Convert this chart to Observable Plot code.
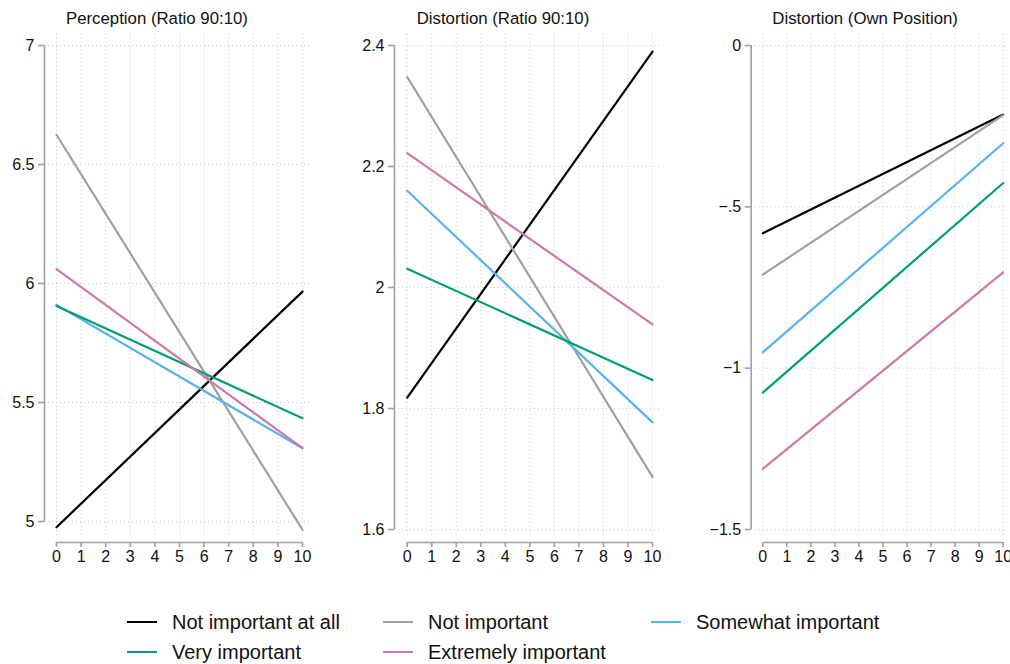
<!DOCTYPE html>
<html><head><meta charset="utf-8">
<script src="https://cdn.jsdelivr.net/npm/d3@7"></script>
<script src="https://cdn.jsdelivr.net/npm/@observablehq/plot@0.6"></script>
<style>
body{margin:0;background:#fff;font-family:"Liberation Sans",Arial,sans-serif;}
#wrap{position:relative;width:1010px;height:664px;overflow:hidden;background:#fff;}
.panel{position:absolute;top:0;}
.title{position:absolute;top:11px;font-size:16.8px;line-height:1;color:#111;white-space:nowrap;}
.item{position:absolute;display:flex;align-items:center;height:24px;font-size:20px;color:#111;white-space:nowrap;}
.sw{width:30px;height:2.5px;margin-right:15px;}
</style></head><body><div id="wrap"></div>
<script>
const categories = ["Not important at all","Not important","Somewhat important","Very important","Extremely important"];
const colors = ["#000000","#a0a0a0","#56b4e9","#009e73","#cc79a7"];
const titles = ["Perception (Ratio 90:10)","Distortion (Ratio 90:10)","Distortion (Own Position)"];
const xValues = [0, 10];
const xTicks = [0,1,2,3,4,5,6,7,8,9,10];

const perceptionStart = [4.976, 6.625, 5.910, 5.905, 6.060];
const perceptionEnd   = [5.966, 4.965, 5.308, 5.434, 5.308];
const distRatioStart  = [1.818, 2.348, 2.160, 2.031, 2.222];
const distRatioEnd    = [2.390, 1.687, 1.777, 1.847, 1.939];
const distOwnStart    = [-0.582, -0.710, -0.951, -1.076, -1.312];
const distOwnEnd      = [-0.214, -0.216, -0.303, -0.426, -0.703];

const perceptionTicks = [5, 5.5, 6, 6.5, 7];
const perceptionTickLabels = ["5","5.5","6","6.5","7"];
const distRatioTicks = [1.6, 1.8, 2, 2.2, 2.4];
const distRatioTickLabels = ["1.6","1.8","2","2.2","2.4"];
const distOwnTicks = [-1.5, -1, -0.5, 0];
const distOwnTickLabels = ["\u22121.5","\u22121","\u2212.5","0"];

// layout (pixels, relative to each panel's svg)
const layouts = [
  {offset:0,   width:336, left:44,   x0:56,   x10:302,   right:311, yHigh:45, yLow:521},
  {offset:340, width:340, left:54,   x0:66.7, x10:312,   right:320, yHigh:45, yLow:529},
  {offset:680, width:330, left:70.7, x0:82.3, x10:322.7, right:326, yHigh:45, yLow:529}
];
const H = 580, TOP = 33, AXISY = 542, GRIDBOTTOM = 535;

const wrap = document.getElementById("wrap");
const axisGray = "#a0a0a0", gridGray = "#c6c6c6";

function panel(idx, start, end, ticks, labels) {
  const cfg = layouts[idx];
  const pxX = (cfg.x10 - cfg.x0) / 10;
  const xd = [(cfg.left - cfg.x0) / pxX, 10 + (cfg.right - cfg.x10) / pxX];
  const tlo = ticks[0], thi = ticks[ticks.length - 1];
  const pxY = (cfg.yLow - cfg.yHigh) / (thi - tlo);
  const yd = [tlo - (AXISY - cfg.yLow) / pxY, thi + (cfg.yHigh - TOP) / pxY];
  const gridLow = tlo - (GRIDBOTTOM - cfg.yLow) / pxY;
  const rows = categories.flatMap((c, i) => [
    {cat: c, x: xValues[0], y: start[i]},
    {cat: c, x: xValues[1], y: end[i]}
  ]);
  const fmt = d => labels[ticks.indexOf(d)];
  const svg = Plot.plot({
    width: cfg.width, height: H,
    marginTop: TOP, marginBottom: H - AXISY,
    marginLeft: cfg.left, marginRight: cfg.width - cfg.right,
    style: {fontFamily: '"Liberation Sans", Arial, sans-serif', background: "transparent", overflow: "visible"},
    x: {domain: xd},
    y: {domain: yd},
    color: {domain: categories, range: colors},
    marks: [
      Plot.ruleX(xTicks, {y1: gridLow, y2: yd[1], stroke: gridGray, strokeDasharray: "1,3", strokeWidth: 1}),
      Plot.ruleY(ticks, {x1: xd[0], x2: xd[1], stroke: gridGray, strokeDasharray: "1,3", strokeWidth: 1}),
      Plot.ruleX([xd[0]], {y1: tlo, y2: thi, stroke: axisGray, strokeWidth: 1.6}),
      Plot.ruleY([yd[0]], {x1: 0, x2: 10, stroke: axisGray, strokeWidth: 1.6}),
      Plot.axisY(ticks, {anchor: "left", label: null, tickSize: 6, tickPadding: 4, stroke: axisGray, strokeWidth: 1.6, fill: "#111", fontSize: 16, tickFormat: fmt}),
      Plot.axisX(xTicks, {anchor: "bottom", label: null, tickSize: 5, tickPadding: 3, stroke: axisGray, strokeWidth: 1.6, fill: "#111", fontSize: 16}),
      Plot.line(rows, {x: "x", y: "y", z: "cat", stroke: "cat", strokeWidth: 2.2})
    ]
  });
  svg.classList.add("panel");
  svg.style.left = cfg.offset + "px";
  svg.style.position = "absolute";
  svg.style.top = "0px";
  wrap.appendChild(svg);
  const t = document.createElement("div");
  t.className = "title";
  t.textContent = titles[idx];
  t.style.left = (cfg.offset + cfg.x0 + 10) + "px";
  wrap.appendChild(t);
}

panel(0, perceptionStart, perceptionEnd, perceptionTicks, perceptionTickLabels);
panel(1, distRatioStart, distRatioEnd, distRatioTicks, distRatioTickLabels);
panel(2, distOwnStart, distOwnEnd, distOwnTicks, distOwnTickLabels);

// legend
const legendCols = [127, 383, 651];
const legendRows = [622, 652];
categories.forEach((c, i) => {
  const d = document.createElement("div");
  d.className = "item";
  d.style.left = legendCols[i % 3] + "px";
  d.style.top = (legendRows[Math.floor(i / 3)] - 12) + "px";
  const s = document.createElement("div");
  s.className = "sw";
  s.style.background = colors[i];
  d.appendChild(s);
  const span = document.createElement("span");
  span.textContent = c;
  d.appendChild(span);
  wrap.appendChild(d);
});
</script></body></html>
